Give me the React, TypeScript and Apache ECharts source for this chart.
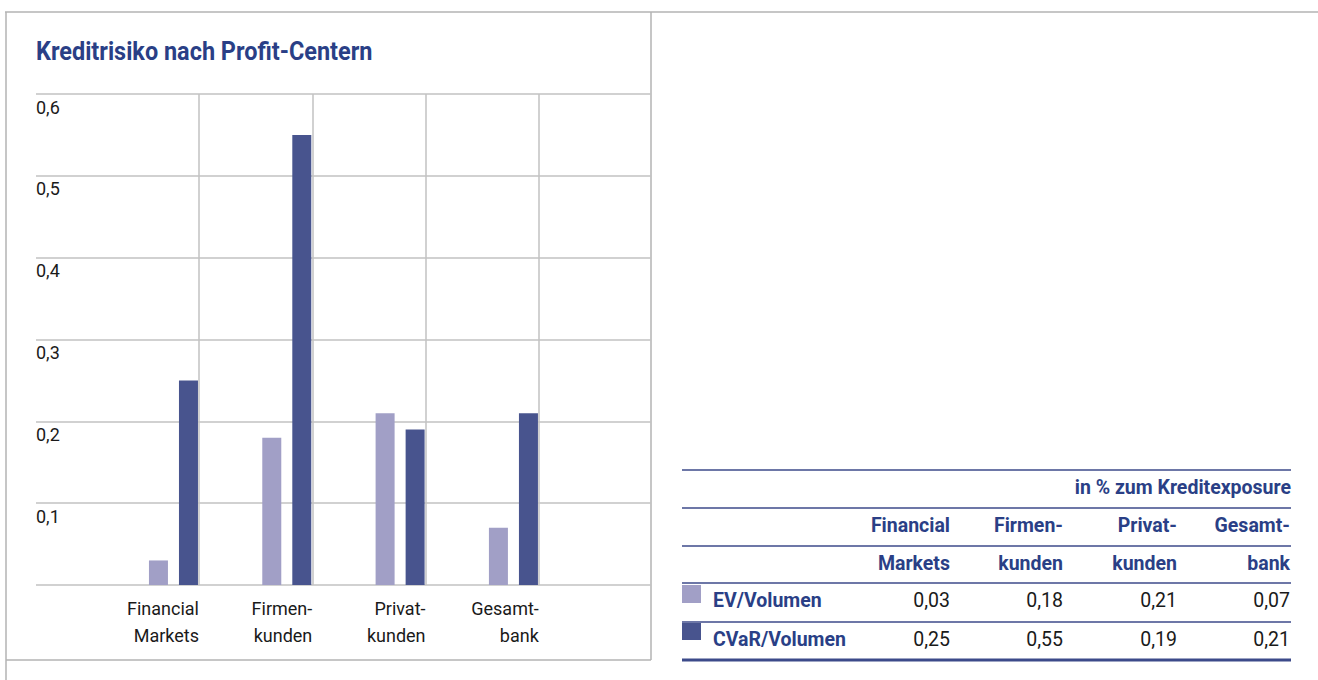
import React, { useEffect, useRef } from "react";
import * as echarts from "echarts";

// ---- data ----
const chartTitle = "Kreditrisiko nach Profit-Centern";
const categories = ["Financial\nMarkets", "Firmen-\nkunden", "Privat-\nkunden", "Gesamt-\nbank"];
const headerTop = ["Financial", "Firmen-", "Privat-", "Gesamt-"];
const headerBottom = ["Markets", "kunden", "kunden", "bank"];
const seriesNames = ["EV/Volumen", "CVaR/Volumen"];
const evVolumen = [0.03, 0.18, 0.21, 0.07];
const cvarVolumen = [0.25, 0.55, 0.19, 0.21];
const yMin = 0;
const yMax = 0.6;
const yInterval = 0.1;
const tableUnit = "in % zum Kreditexposure";

// ---- styles ----
const LIGHT = "#a19fc6";
const DARK = "#48548e";
const BLUE = "#2a3f86";
const LINE_BLUE = "#3c4a8a";
const GRID = "#c2c2c2";
const FRAME = "#b3b3b3";
const CF = "Roboto, sans-serif";
const TF = "Roboto, 'Liberation Sans', sans-serif";

const fmt = (v: number) => v.toFixed(2).replace(".", ",");

export default function App() {
  const ref = useRef<HTMLDivElement>(null);
  useEffect(() => {
    if (!ref.current) return;
    const chart = echarts.init(ref.current, undefined, { renderer: "svg" });
    const W = 1318;
    const H = 680;
    const top = 94;
    const bottom = H - 585;

    const colRight = [950, 1063, 1177, 1290];
    const tableLeft = 682;
    const tableRight = 1291;
    const rowLabelX = 713;
    const tfs = 19.5;
    const mid = (baseline: number) => baseline - 0.36 * tfs;

    const graphics: any[] = [];
    // title
    graphics.push({
      type: "text",
      x: 36,
      y: 51,
      scaleX: 0.92,
      style: {
        text: chartTitle,
        align: "left",
        verticalAlign: "middle",
        fill: BLUE,
        fontSize: 25.5,
        fontWeight: "bold",
        fontFamily: CF,
      },
    });
    // frame
    const frameLines = [
      { x1: 5, y1: 12, x2: W, y2: 12 },
      { x1: 6, y1: 12, x2: 6, y2: H },
      { x1: 651, y1: 12, x2: 651, y2: 660 },
      { x1: 6, y1: 660, x2: 651, y2: 660 },
    ];
    frameLines.forEach((s) =>
      graphics.push({ type: "line", shape: s, style: { stroke: FRAME, lineWidth: 1.5 }, silent: true })
    );
    // table lines
    const tLines = [
      { y: 470, w: 1.5 },
      { y: 508, w: 1.5 },
      { y: 546, w: 1.5 },
      { y: 583, w: 1.5 },
      { y: 622, w: 1.5 },
      { y: 660, w: 3 },
    ];
    tLines.forEach((l) =>
      graphics.push({
        type: "line",
        shape: { x1: tableLeft, y1: l.y, x2: tableRight, y2: l.y },
        style: { stroke: LINE_BLUE, lineWidth: l.w },
        silent: true,
      })
    );
    graphics.push({
      type: "text",
      x: tableRight,
      y: mid(495),
      style: { text: tableUnit, align: "right", verticalAlign: "middle", fill: BLUE, font: `bold ${tfs}px ${TF}` },
    });
    headerTop.forEach((h, i) =>
      graphics.push({
        type: "text",
        x: colRight[i],
        y: mid(533),
        style: { text: h, align: "right", verticalAlign: "middle", fill: BLUE, font: `bold ${tfs}px ${TF}` },
      })
    );
    headerBottom.forEach((h, i) =>
      graphics.push({
        type: "text",
        x: colRight[i],
        y: mid(571),
        style: { text: h, align: "right", verticalAlign: "middle", fill: BLUE, font: `bold ${tfs}px ${TF}` },
      })
    );
    const rows = [
      { name: seriesNames[0], data: evVolumen, color: LIGHT, baseline: 608, sqY: 585, sqH: 18 },
      { name: seriesNames[1], data: cvarVolumen, color: DARK, baseline: 647, sqY: 623, sqH: 17 },
    ];
    rows.forEach((r) => {
      graphics.push({
        type: "rect",
        shape: { x: tableLeft, y: r.sqY, width: 19, height: r.sqH },
        style: { fill: r.color },
      });
      graphics.push({
        type: "text",
        x: rowLabelX,
        y: mid(r.baseline),
        style: { text: r.name, align: "left", verticalAlign: "middle", fill: BLUE, font: `bold ${tfs}px ${TF}` },
      });
      r.data.forEach((v, i) =>
        graphics.push({
          type: "text",
          x: colRight[i],
          y: mid(r.baseline),
          style: { text: fmt(v), align: "right", verticalAlign: "middle", fill: "#1a1a1a", font: `${tfs}px ${TF}` },
        })
      );
    });

    const option: any = {
      animation: false,
      backgroundColor: "#ffffff",
      grid: [
        { left: 36, right: W - 651, top, bottom },
        { left: 116.8, right: W - 570.1, top, bottom },
        { left: 199, right: W - 538.8, top, bottom },
      ],
      xAxis: [
        { type: "value", gridIndex: 0, show: false, min: 0, max: 1 },
        { type: "category", gridIndex: 1, data: categories, show: false },
        {
          type: "category",
          gridIndex: 2,
          data: categories,
          boundaryGap: false,
          axisLine: { show: false },
          axisTick: { show: false },
          splitLine: { show: true, lineStyle: { color: GRID, width: 1.5 } },
          axisLabel: {
            interval: 0,
            align: "right",
            margin: 10,
            lineHeight: 27,
            fontSize: 18,
            color: "#1a1a1a",
            fontFamily: CF,
          },
        },
      ],
      yAxis: [
        {
          type: "value",
          gridIndex: 0,
          min: yMin,
          max: yMax,
          interval: yInterval,
          axisLine: { show: false },
          axisTick: { show: false },
          splitLine: { show: true, lineStyle: { color: GRID, width: 1.5 } },
          axisLabel: {
            inside: true,
            margin: 0,
            verticalAlign: "top",
            padding: [4, 0, 0, 0],
            fontSize: 18,
            color: "#1a1a1a",
            fontFamily: CF,
            formatter: (v: number) => (v === 0 ? "" : (Math.round(v * 10) / 10).toString().replace(".", ",")),
          },
        },
        { type: "value", gridIndex: 1, min: yMin, max: yMax, interval: yInterval, show: false },
        { type: "value", gridIndex: 2, min: yMin, max: yMax, interval: yInterval, show: false },
      ],
      series: [
        {
          type: "bar",
          name: seriesNames[0],
          xAxisIndex: 1,
          yAxisIndex: 1,
          data: evVolumen,
          barWidth: 19,
          barGap: "58%",
          itemStyle: { color: LIGHT },
        },
        {
          type: "bar",
          name: seriesNames[1],
          xAxisIndex: 1,
          yAxisIndex: 1,
          data: cvarVolumen,
          barWidth: 19,
          barGap: "58%",
          itemStyle: { color: DARK },
        },
      ],
      graphic: graphics,
    };
    chart.setOption(option);
    return () => chart.dispose();
  }, []);
  return (
    <div
      ref={ref}
      style={{ position: "absolute", left: 0, top: 0, width: 1318, height: 680, background: "#fff" }}
    />
  );
}
